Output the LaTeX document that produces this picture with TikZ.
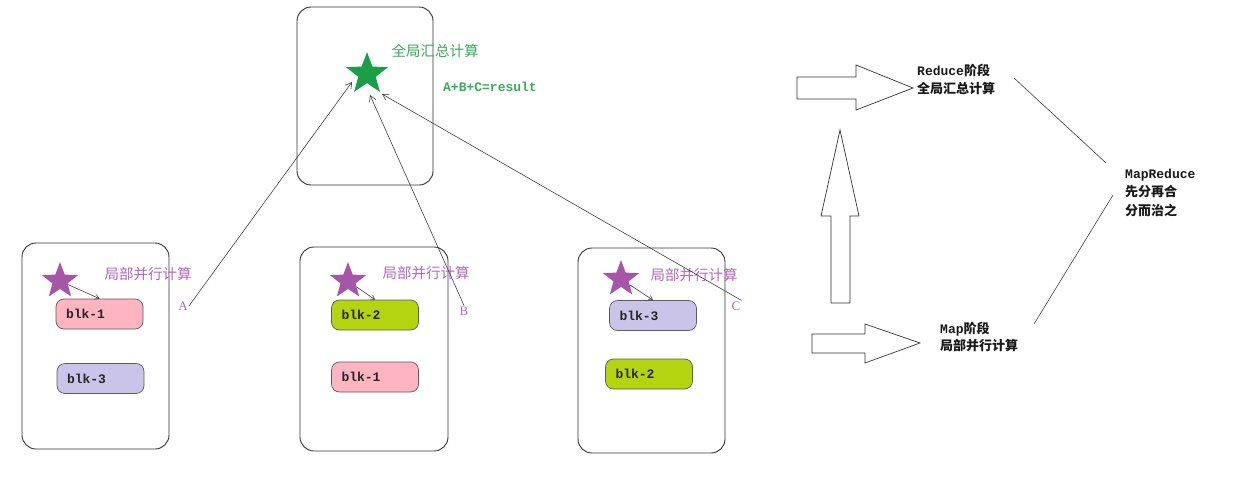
\documentclass[tikz,border=0pt]{standalone}
\usepackage{fontspec}
\setmainfont{Liberation Mono}
\newfontfamily\cjk{Noto Sans CJK SC}
\newfontfamily\lserif{Liberation Serif}
\usetikzlibrary{shapes.geometric,arrows.meta}
\definecolor{gstarc}{HTML}{1A9E48}
\definecolor{gtext}{HTML}{3AAA5C}
\definecolor{pstar}{HTML}{A656A8}
\definecolor{ptext}{HTML}{B468BE}
\definecolor{pinkc}{HTML}{FFB4C2}
\definecolor{lavc}{HTML}{C9C4E8}
\definecolor{limec}{HTML}{B4D40F}
\definecolor{edge}{HTML}{333333}
\begin{document}
\begin{tikzpicture}[x=1pt,y=-1pt,
  frame/.style={draw=edge,line width=0.9pt,rounded corners=14pt},
  blkbox/.style={draw=edge!80,line width=0.7pt,rounded corners=8pt,minimum height=30pt,
    text width=67pt,inner xsep=10pt,inner ysep=0pt,align=left,text=black!85,
    font=\fontsize{13}{14}\selectfont\bfseries},
  bigstar/.style={star,star points=5,star point ratio=2.4,inner sep=0pt,draw=none},
  plabel/.style={text=ptext,font=\cjk\fontsize{14.5}{16}\selectfont,inner sep=1pt},
  letter/.style={text=ptext,font=\lserif\fontsize{13}{14}\selectfont,inner sep=1pt},
  conn/.style={draw=black!75,line width=0.6pt,-{Straight Barb[length=6pt,width=7pt]}},
  small/.style={draw=black!75,line width=0.6pt,-{Straight Barb[length=4pt,width=5pt]}},
  plain/.style={draw=black!75,line width=0.6pt},
  blockarrow/.style={draw=black!80,line width=0.7pt,fill=white},
  rtext/.style={align=left,anchor=west,inner sep=0pt,text=black!90,
    font=\fontsize{13}{17.5}\selectfont\bfseries}
]
\useasboundingbox (0,0) rectangle (1246,479);
\fill[white] (0,0) rectangle (1246,479);

% top box
\draw[frame] (297,7) rectangle (433,185);
\node[bigstar,fill=gstarc,minimum size=44pt] (gstar) at (367,74) {};
\node[text=gtext,font=\cjk\fontsize{14.5}{16}\selectfont,inner sep=0pt] (gl) at (435,51) {全局汇总计算};
\node[text=gtext,font=\fontsize{13}{14}\selectfont\bfseries,inner sep=0pt] (res) at (490,87) {A+B+C=result};
\coordinate (tA) at (352,82);
\coordinate (tB) at (370,95);
\coordinate (tC) at (382,94);

% box 1
\draw[frame] (22,243) rectangle (169,449);
\node[bigstar,fill=pstar,minimum size=38pt] (s1) at (60,281) {};
\node[plabel] (p1) at (148,274) {局部并行计算};
\node[blkbox,fill=pinkc] (b1a) at (99.5,314) {blk-1};
\node[blkbox,fill=lavc] (b3a) at (100.5,378.5) {blk-3};
\node[letter] (A) at (183,306) {A};

% box 2
\draw[frame] (300,247) rectangle (448,451);
\node[bigstar,fill=pstar,minimum size=38pt] (s2) at (348,281) {};
\node[plabel] (p2) at (426,273) {局部并行计算};
\node[blkbox,fill=limec] (b2b) at (375,315) {blk-2};
\node[blkbox,fill=pinkc] (b1b) at (375,377) {blk-1};
\node[letter] (B) at (464,311) {B};

% box 3
\draw[frame] (578,248) rectangle (725,453);
\node[bigstar,fill=pstar,minimum size=38pt] (s3) at (621,279) {};
\node[plabel] (p3) at (694,275) {局部并行计算};
\node[blkbox,fill=lavc] (b3c) at (653,315.5) {blk-3};
\node[blkbox,fill=limec] (b2c) at (649,374) {blk-2};
\node[letter] (C) at (736,306) {C};

% small arrows star -> block
\draw[small] (s1) -- (b1a.north);
\draw[small] (s2) -- (b2b.north);
\draw[small] (s3) -- (b3c.north);

% connectors up to the global star
\draw[conn] (A.east) -- (tA);
\draw[conn] (B.north) -- (tB);
\draw[conn] (C.north east) -- (tC);

% right side block arrows
\draw[blockarrow] (797,77) -- (856,77) -- (856,65) -- (913,88) -- (856,110) -- (856,99) -- (797,99) -- cycle;
\draw[blockarrow] (831,303) -- (850,303) -- (850,216) -- (859,216) -- (840,130) -- (821,216) -- (831,216) -- cycle;
\draw[blockarrow] (812,334) -- (865,334) -- (865,324) -- (920,343) -- (865,363) -- (865,353) -- (812,353) -- cycle;

\node[rtext] (red) at (917,79.5) {Reduce{\cjk 阶段}\\{\cjk 全局汇总计算}};
\node[rtext] (map) at (940,337) {Map{\cjk 阶段}\\{\cjk 局部并行计算}};
\node[rtext,font=\fontsize{13}{18.5}\selectfont\bfseries] (mr) at (1125,192.5) {MapReduce\\{\cjk 先分再合}\\{\cjk 分而治之}};

\coordinate (r1) at (1014,78);
\coordinate (r2) at (1106,163);
\coordinate (m1) at (1113,195);
\coordinate (m2) at (1034,324);
\draw[plain] (r1) -- (r2);
\draw[plain] (m1) -- (m2);
\end{tikzpicture}
\end{document}
